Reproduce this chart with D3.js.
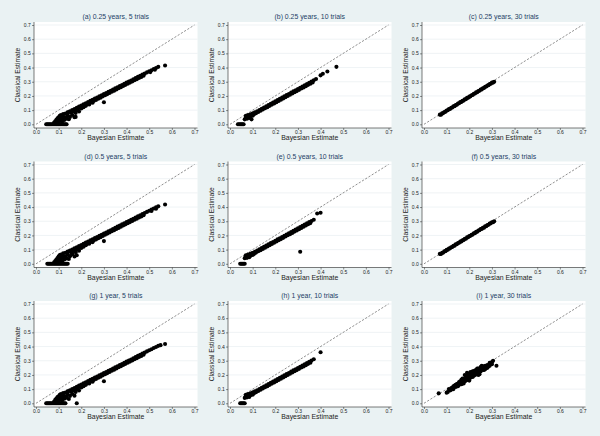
<!DOCTYPE html>
<html><head><meta charset="utf-8">
<script src="https://cdn.jsdelivr.net/npm/d3@7"></script>
<style>body{margin:0;background:#eaf2f3;}svg{display:block;}</style>
</head><body>
<script>
const titles = ["(a) 0.25 years, 5 trials","(b) 0.25 years, 10 trials","(c) 0.25 years, 30 trials",
"(d) 0.5 years, 5 trials","(e) 0.5 years, 10 trials","(f) 0.5 years, 30 trials",
"(g) 1 year, 5 trials","(h) 1 year, 10 trials","(i) 1 year, 30 trials"];
const tickValues = [0,0.1,0.2,0.3,0.4,0.5,0.6,0.7];
const xLabel = "Bayesian Estimate", yLabel = "Classical Estimate";

// [Bayesian, Classical]
const panelA = [
[0.045,0],[0.05,0],[0.055,0],[0.06,0],[0.065,0],[0.07,0],[0.075,0],[0.08,0],[0.085,0],[0.09,0],[0.095,0],[0.1,0],[0.105,0],[0.11,0],[0.115,0],[0.12,0],[0.125,0],[0.13,0],[0.135,0],
[0.08,0.012],[0.085,0.022],[0.09,0.032],[0.09,0.015],[0.095,0.042],[0.1,0.02],[0.1,0.035],[0.1,0.05],[0.105,0.06],[0.11,0.03],[0.11,0.045],[0.11,0.066],[0.115,0.018],[0.12,0.04],[0.12,0.055],[0.12,0.072],[0.125,0.03],[0.13,0.05],[0.13,0.076],[0.135,0.04],[0.14,0.062],[0.14,0.082],[0.145,0.036],[0.15,0.052],[0.15,0.088],[0.16,0.066],[0.165,0.096],[0.17,0.05],[0.175,0.08],[0.18,0.102],[0.19,0.09],[0.2,0.112],[0.21,0.12],[0.22,0.13],[0.235,0.14],[0.25,0.152],
[0.14,0.085],[0.15,0.092],[0.16,0.1],[0.17,0.108],[0.18,0.117],[0.19,0.125],[0.2,0.133],[0.21,0.141],[0.22,0.148],[0.23,0.157],[0.24,0.165],[0.25,0.173],[0.26,0.181],[0.27,0.189],[0.28,0.197],[0.29,0.205],[0.3,0.213],[0.31,0.221],[0.32,0.229],[0.33,0.237],[0.34,0.245],[0.35,0.253],[0.36,0.261],[0.37,0.27],[0.38,0.277],[0.39,0.286],[0.4,0.294],[0.41,0.302],[0.42,0.309],[0.43,0.318],[0.44,0.326],[0.45,0.334],[0.46,0.342],[0.47,0.35],[0.48,0.357],[0.49,0.366],[0.5,0.374],[0.51,0.381],[0.52,0.39],[0.53,0.397],[0.54,0.405],
[0.155,0.082],[0.165,0.09],[0.175,0.098],[0.185,0.107],[0.195,0.116],[0.205,0.124],[0.215,0.132],[0.225,0.14],[0.235,0.148],[0.245,0.156],[0.255,0.164],[0.265,0.172],[0.275,0.18],[0.285,0.188],[0.295,0.197],[0.305,0.205],[0.315,0.213],[0.325,0.221],[0.335,0.229],[0.345,0.237],[0.355,0.245],[0.365,0.254],[0.375,0.262],[0.385,0.27],[0.395,0.278],[0.405,0.286],[0.415,0.294],[0.425,0.302],[0.435,0.31],[0.445,0.318],[0.455,0.326],[0.465,0.334],[0.475,0.342],
[0.3,0.155],[0.175,0.052],[0.57,0.415],[0.505,0.368],[0.525,0.385]
];
const panelB = [
[0.035,0],[0.04,0],[0.045,0],[0.05,0],[0.055,0],[0.06,0],
[0.065,0.035],[0.07,0.045],[0.07,0.06],[0.075,0.04],[0.075,0.055],[0.08,0.05],[0.08,0.065],[0.085,0.045],[0.085,0.06],[0.09,0.055],[0.09,0.07],[0.095,0.035],[0.1,0.06],[0.1,0.075],[0.105,0.07],[0.11,0.08],
[0.09,0.066],[0.1,0.075],[0.11,0.084],[0.12,0.092],[0.13,0.101],[0.14,0.11],[0.15,0.118],[0.16,0.127],[0.17,0.136],[0.18,0.145],[0.19,0.153],[0.2,0.162],[0.21,0.171],[0.22,0.179],[0.23,0.188],[0.24,0.197],[0.25,0.206],[0.26,0.214],[0.27,0.223],[0.28,0.232],[0.29,0.24],[0.3,0.249],[0.31,0.258],[0.32,0.266],[0.33,0.275],[0.34,0.284],[0.35,0.293],[0.36,0.301],[0.37,0.31],[0.38,0.319],
[0.105,0.07],[0.115,0.078],[0.125,0.087],[0.135,0.095],[0.145,0.104],[0.155,0.113],[0.165,0.121],[0.175,0.13],[0.185,0.139],[0.195,0.147],[0.205,0.156],[0.215,0.165],[0.225,0.173],[0.235,0.182],[0.245,0.191],[0.255,0.2],[0.265,0.208],[0.275,0.217],[0.285,0.226],[0.295,0.234],[0.305,0.243],[0.315,0.252],[0.325,0.26],[0.335,0.269],[0.345,0.278],[0.355,0.286],[0.365,0.295],
[0.4,0.345],[0.41,0.356],[0.43,0.372],[0.47,0.405]
];
const panelC = [
[0.07,0.068],
[0.08,0.077],[0.09,0.087],[0.1,0.097],[0.11,0.107],[0.12,0.117],[0.13,0.127],[0.14,0.136],[0.15,0.146],[0.16,0.156],[0.17,0.166],[0.18,0.176],[0.19,0.186],[0.2,0.195],[0.21,0.205],[0.22,0.215],[0.23,0.225],[0.24,0.235],[0.25,0.245],[0.26,0.254],[0.27,0.264],[0.28,0.274],[0.29,0.284],[0.3,0.294],[0.31,0.3],
[0.075,0.068],[0.085,0.079],[0.095,0.089],[0.105,0.099],[0.115,0.108],[0.125,0.118],[0.135,0.128],[0.145,0.138],[0.155,0.148],[0.165,0.158],[0.175,0.167],[0.185,0.177],[0.195,0.187],[0.205,0.197],[0.215,0.207],[0.225,0.217],[0.235,0.226],[0.245,0.236],[0.255,0.246],[0.265,0.256],[0.275,0.266],[0.285,0.276],[0.295,0.286],[0.305,0.294]
];
const panelD = [
[0.05,0],[0.055,0],[0.06,0],[0.065,0],[0.07,0],[0.075,0],[0.08,0],[0.085,0],[0.09,0],[0.095,0],[0.1,0],[0.105,0],[0.11,0],[0.115,0],[0.12,0],[0.125,0],[0.13,0],[0.135,0],[0.14,0],
[0.08,0.01],[0.085,0.02],[0.09,0.03],[0.09,0.014],[0.095,0.04],[0.1,0.022],[0.1,0.036],[0.1,0.052],[0.105,0.062],[0.11,0.028],[0.11,0.046],[0.11,0.066],[0.115,0.016],[0.12,0.042],[0.12,0.056],[0.12,0.074],[0.125,0.03],[0.13,0.052],[0.13,0.078],[0.135,0.038],[0.14,0.064],[0.14,0.082],[0.145,0.034],[0.15,0.054],[0.15,0.088],[0.16,0.068],[0.165,0.095],[0.17,0.052],[0.175,0.082],[0.18,0.103],[0.19,0.092],[0.2,0.112],[0.21,0.12],[0.22,0.131],[0.235,0.141],[0.25,0.153],
[0.14,0.086],[0.15,0.093],[0.16,0.101],[0.17,0.109],[0.18,0.117],[0.19,0.125],[0.2,0.133],[0.21,0.141],[0.22,0.149],[0.23,0.157],[0.24,0.165],[0.25,0.173],[0.26,0.181],[0.27,0.189],[0.28,0.197],[0.29,0.205],[0.3,0.213],[0.31,0.221],[0.32,0.229],[0.33,0.237],[0.34,0.245],[0.35,0.253],[0.36,0.262],[0.37,0.27],[0.38,0.278],[0.39,0.286],[0.4,0.294],[0.41,0.302],[0.42,0.31],[0.43,0.318],[0.44,0.326],[0.45,0.334],[0.46,0.342],[0.47,0.35],[0.48,0.358],[0.49,0.366],[0.5,0.374],[0.51,0.382],[0.52,0.39],[0.53,0.398],[0.54,0.405],
[0.155,0.082],[0.165,0.09],[0.175,0.098],[0.185,0.107],[0.195,0.115],[0.205,0.124],[0.215,0.132],[0.225,0.14],[0.235,0.148],[0.245,0.156],[0.255,0.164],[0.265,0.172],[0.275,0.18],[0.285,0.188],[0.295,0.196],[0.305,0.205],[0.315,0.213],[0.325,0.221],[0.335,0.229],[0.345,0.237],[0.355,0.245],[0.365,0.253],[0.375,0.262],[0.385,0.27],[0.395,0.278],[0.405,0.286],[0.415,0.294],[0.425,0.302],[0.435,0.31],[0.445,0.318],[0.455,0.326],[0.465,0.334],[0.475,0.342],
[0.3,0.16],[0.18,0.06],[0.57,0.418],[0.51,0.372],[0.53,0.388]
];
const panelE = [
[0.045,0],[0.05,0],[0.055,0],[0.06,0],[0.065,0],
[0.065,0.04],[0.07,0.05],[0.07,0.06],[0.075,0.042],[0.075,0.057],[0.08,0.05],[0.08,0.066],[0.085,0.046],[0.085,0.062],[0.09,0.056],[0.09,0.07],[0.1,0.062],[0.1,0.076],[0.105,0.07],[0.11,0.08],
[0.09,0.067],[0.1,0.076],[0.11,0.085],[0.12,0.093],[0.13,0.102],[0.14,0.111],[0.15,0.119],[0.16,0.128],[0.17,0.137],[0.18,0.146],[0.19,0.154],[0.2,0.163],[0.21,0.172],[0.22,0.18],[0.23,0.189],[0.24,0.198],[0.25,0.207],[0.26,0.215],[0.27,0.224],[0.28,0.233],[0.29,0.241],[0.3,0.25],[0.31,0.259],[0.32,0.267],[0.33,0.276],[0.34,0.285],[0.35,0.294],[0.36,0.302],[0.37,0.311],
[0.105,0.071],[0.115,0.079],[0.125,0.088],[0.135,0.096],[0.145,0.105],[0.155,0.114],[0.165,0.122],[0.175,0.131],[0.185,0.14],[0.195,0.148],[0.205,0.157],[0.215,0.166],[0.225,0.174],[0.235,0.183],[0.245,0.192],[0.255,0.201],[0.265,0.209],[0.275,0.218],[0.285,0.227],[0.295,0.235],[0.305,0.244],[0.315,0.253],[0.325,0.261],[0.335,0.27],[0.345,0.279],[0.355,0.287],
[0.385,0.355],[0.4,0.36],[0.31,0.085]
];
const panelF = [
[0.07,0.07],
[0.08,0.078],[0.09,0.088],[0.1,0.098],[0.11,0.107],[0.12,0.117],[0.13,0.127],[0.14,0.137],[0.15,0.147],[0.16,0.156],[0.17,0.166],[0.18,0.176],[0.19,0.186],[0.2,0.196],[0.21,0.205],[0.22,0.215],[0.23,0.225],[0.24,0.235],[0.25,0.245],[0.26,0.254],[0.27,0.264],[0.28,0.274],[0.29,0.284],[0.3,0.293],[0.31,0.3],
[0.075,0.069],[0.085,0.079],[0.095,0.089],[0.105,0.099],[0.115,0.109],[0.125,0.118],[0.135,0.128],[0.145,0.138],[0.155,0.148],[0.165,0.158],[0.175,0.167],[0.185,0.177],[0.195,0.187],[0.205,0.197],[0.215,0.206],[0.225,0.216],[0.235,0.226],[0.245,0.236],[0.255,0.246],[0.265,0.255],[0.275,0.265],[0.285,0.275],[0.295,0.285],[0.305,0.293]
];
const panelG = [
[0.045,0],[0.05,0],[0.055,0],[0.06,0],[0.065,0],[0.07,0],[0.075,0],[0.08,0],[0.085,0],[0.09,0],[0.095,0],[0.1,0],[0.105,0],[0.11,0],[0.115,0],[0.12,0],[0.125,0],[0.13,0],[0.18,0],
[0.08,0.012],[0.085,0.024],[0.09,0.034],[0.09,0.016],[0.095,0.044],[0.1,0.02],[0.1,0.036],[0.1,0.05],[0.105,0.06],[0.11,0.03],[0.11,0.046],[0.11,0.066],[0.115,0.02],[0.12,0.042],[0.12,0.056],[0.12,0.072],[0.125,0.032],[0.13,0.05],[0.13,0.076],[0.135,0.04],[0.14,0.062],[0.14,0.082],[0.145,0.03],[0.15,0.052],[0.15,0.088],[0.16,0.066],[0.165,0.096],[0.17,0.054],[0.175,0.08],[0.18,0.102],[0.19,0.09],[0.2,0.112],[0.21,0.12],[0.22,0.13],[0.235,0.14],[0.25,0.152],
[0.14,0.085],[0.15,0.092],[0.16,0.1],[0.17,0.108],[0.18,0.117],[0.19,0.125],[0.2,0.133],[0.21,0.141],[0.22,0.148],[0.23,0.157],[0.24,0.165],[0.25,0.173],[0.26,0.181],[0.27,0.189],[0.28,0.197],[0.29,0.205],[0.3,0.213],[0.31,0.221],[0.32,0.229],[0.33,0.237],[0.34,0.245],[0.35,0.253],[0.36,0.261],[0.37,0.27],[0.38,0.277],[0.39,0.286],[0.4,0.294],[0.41,0.302],[0.42,0.309],[0.43,0.318],[0.44,0.326],[0.45,0.334],[0.46,0.342],[0.47,0.35],[0.48,0.357],[0.49,0.366],[0.5,0.374],[0.51,0.381],[0.52,0.39],[0.53,0.397],[0.54,0.405],
[0.155,0.082],[0.165,0.09],[0.175,0.098],[0.185,0.107],[0.195,0.116],[0.205,0.124],[0.215,0.132],[0.225,0.14],[0.235,0.148],[0.245,0.156],[0.255,0.164],[0.265,0.172],[0.275,0.18],[0.285,0.188],[0.295,0.197],[0.305,0.205],[0.315,0.213],[0.325,0.221],[0.335,0.229],[0.345,0.237],[0.355,0.245],[0.365,0.254],[0.375,0.262],[0.385,0.27],[0.395,0.278],[0.405,0.286],[0.415,0.294],[0.425,0.302],[0.435,0.31],[0.445,0.318],[0.455,0.326],[0.465,0.334],[0.475,0.342],
[0.3,0.155],[0.57,0.418],[0.55,0.41]
];
const panelH = [
[0.045,0],[0.05,0],[0.055,0],[0.06,0],[0.065,0],
[0.065,0.038],[0.07,0.048],[0.07,0.06],[0.075,0.042],[0.075,0.056],[0.08,0.05],[0.08,0.066],[0.085,0.045],[0.085,0.061],[0.09,0.056],[0.09,0.07],[0.1,0.06],[0.1,0.075],[0.105,0.07],[0.11,0.08],
[0.09,0.066],[0.1,0.075],[0.11,0.084],[0.12,0.092],[0.13,0.101],[0.14,0.11],[0.15,0.118],[0.16,0.127],[0.17,0.136],[0.18,0.145],[0.19,0.153],[0.2,0.162],[0.21,0.171],[0.22,0.179],[0.23,0.188],[0.24,0.197],[0.25,0.206],[0.26,0.214],[0.27,0.223],[0.28,0.232],[0.29,0.24],[0.3,0.249],[0.31,0.258],[0.32,0.266],[0.33,0.275],[0.34,0.284],[0.35,0.293],[0.36,0.301],[0.37,0.31],
[0.105,0.07],[0.115,0.078],[0.125,0.087],[0.135,0.095],[0.145,0.104],[0.155,0.113],[0.165,0.121],[0.175,0.13],[0.185,0.139],[0.195,0.147],[0.205,0.156],[0.215,0.165],[0.225,0.173],[0.235,0.182],[0.245,0.191],[0.255,0.2],[0.265,0.208],[0.275,0.217],[0.285,0.226],[0.295,0.234],[0.305,0.243],[0.315,0.252],[0.325,0.26],[0.335,0.269],[0.345,0.278],[0.355,0.286],
[0.4,0.36]
];
const panelI = [
[0.065,0.07],[0.1,0.075],[0.105,0.08],[0.11,0.1],[0.115,0.09],[0.12,0.105],[0.125,0.11],[0.13,0.12],[0.13,0.1],[0.135,0.125],[0.14,0.115],[0.14,0.13],[0.145,0.135],[0.15,0.12],[0.15,0.14],[0.155,0.13],[0.155,0.15],[0.16,0.14],[0.16,0.155],[0.165,0.15],[0.17,0.16],[0.17,0.14],[0.175,0.165],[0.175,0.15],[0.18,0.17],[0.18,0.155],[0.185,0.175],[0.185,0.19],[0.19,0.18],[0.19,0.165],[0.195,0.2],[0.195,0.185],[0.2,0.19],[0.2,0.175],[0.2,0.21],[0.205,0.2],[0.21,0.19],[0.21,0.215],[0.215,0.2],[0.215,0.185],[0.22,0.21],[0.22,0.225],[0.225,0.2],[0.225,0.215],[0.23,0.22],[0.23,0.235],[0.235,0.21],[0.235,0.245],[0.24,0.23],[0.24,0.2],[0.245,0.24],[0.25,0.255],[0.25,0.225],[0.255,0.245],[0.26,0.26],[0.26,0.235],[0.265,0.25],[0.27,0.265],[0.27,0.24],[0.275,0.255],[0.28,0.27],[0.285,0.26],[0.29,0.275],[0.295,0.28],[0.3,0.29],[0.305,0.3],[0.32,0.265],[0.18,0.2],[0.19,0.215],[0.245,0.205],[0.165,0.135],[0.2,0.16],[0.255,0.265],[0.28,0.25],
[0.145,0.12],[0.165,0.165],[0.17,0.175],[0.185,0.16],[0.195,0.17],[0.205,0.18],[0.205,0.22],[0.21,0.2],[0.22,0.195],[0.225,0.23],[0.23,0.205],[0.24,0.245],[0.245,0.225],[0.25,0.24],[0.26,0.25],[0.265,0.235],[0.27,0.255],[0.28,0.26],[0.29,0.265],[0.29,0.285],[0.3,0.275],[0.215,0.225],[0.195,0.205],[0.175,0.14],[0.12,0.095]
];
const panels = [panelA,panelB,panelC,panelD,panelE,panelF,panelG,panelH,panelI];

const W = 600, H = 436;
const svg = d3.select("body").append("svg").attr("width",W).attr("height",H);
svg.append("rect").attr("width",W).attr("height",H).attr("fill","#eaf2f3");
const font = "'Liberation Sans', Arial, sans-serif";
const fmt = d3.format(".1f");

panels.forEach((data,i)=>{
  const c = i%3, r = Math.floor(i/3);
  const x0 = 36 + 194*c, yb = 124.3 + 139.5*r;
  const x = d3.scaleLinear().domain([0,0.7]).range([x0, x0+158.5]);
  const y = d3.scaleLinear().domain([0,0.7]).range([yb, yb-99.3]);
  const L = x(0)-2, R = x(0.7)+3, T = y(0.7)-3, B = y(0)+3.7;
  const g = svg.append("g");
  g.append("rect").attr("x",L).attr("y",T).attr("width",R-L).attr("height",B-T).attr("fill","#fff");
  g.selectAll("line.grid").data(tickValues.slice(1)).join("line").attr("class","grid")
    .attr("x1",L).attr("x2",R).attr("y1",d=>y(d)).attr("y2",d=>y(d))
    .attr("stroke","#e4ebee").attr("stroke-width",0.6);
  g.append("line").attr("x1",x(0)).attr("y1",y(0)).attr("x2",x(0.7)).attr("y2",y(0.7))
    .attr("stroke","#444").attr("stroke-width",0.6).attr("stroke-dasharray","2.2,1.6");
  g.selectAll("circle").data(data).join("circle")
    .attr("cx",d=>x(d[0])).attr("cy",d=>y(d[1])).attr("r",2.05).attr("fill","#000");
  const ya = g.append("g").attr("transform",`translate(${L},0)`)
    .call(d3.axisLeft(y).tickValues(tickValues).tickFormat(fmt).tickSize(2).tickPadding(1.2));
  ya.select(".domain").remove();
  ya.append("line").attr("x1",0).attr("x2",0).attr("y1",T).attr("y2",B).attr("stroke","#222").attr("stroke-width",0.6);
  const xa = g.append("g").attr("transform",`translate(0,${B})`)
    .call(d3.axisBottom(x).tickValues(tickValues).tickFormat(fmt).tickSize(2).tickPadding(0.8));
  xa.select(".domain").remove();
  xa.append("line").attr("x1",L).attr("x2",R).attr("y1",0).attr("y2",0).attr("stroke","#222").attr("stroke-width",0.6);
  [ya,xa].forEach(a=>{
    a.selectAll(".tick line").attr("stroke","#222").attr("stroke-width",0.5);
    a.selectAll(".tick text").attr("font-size",5).attr("font-family",font).attr("fill","#222");
  });
  const cx = (L+R)/2;
  g.append("text").attr("x",cx).attr("y",y(0.7)-5.6).attr("text-anchor","middle")
    .attr("font-family",font).attr("font-size",6.9).attr("fill","#1e3f66").text(titles[i]);
  g.append("text").attr("x",cx).attr("y",B+12).attr("text-anchor","middle")
    .attr("font-family",font).attr("font-size",6.9).attr("fill","#222").text(xLabel);
  g.append("text").attr("transform",`translate(${L-14.5},${(T+B)/2}) rotate(-90)`).attr("text-anchor","middle")
    .attr("font-family",font).attr("font-size",6.7).attr("fill","#222").text(yLabel);
});
</script>
</body></html>
